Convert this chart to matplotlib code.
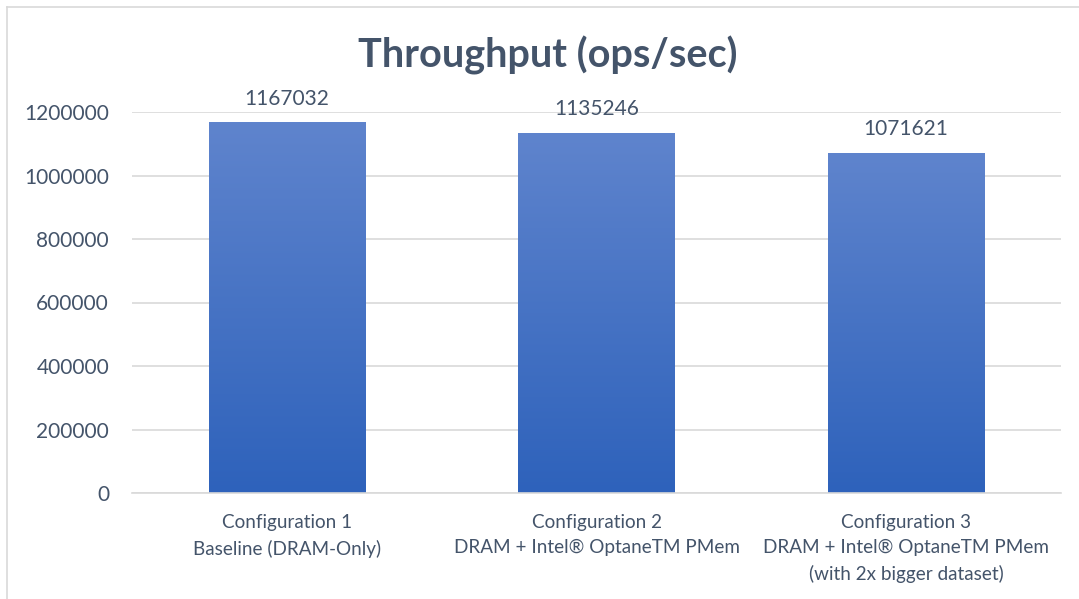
import matplotlib.pyplot as plt
import numpy as np
from matplotlib.lines import Line2D

# data
categories = ["Configuration 1\nBaseline (DRAM-Only)",
              "Configuration 2\nDRAM + Intel® OptaneTM PMem",
              "Configuration 3\nDRAM + Intel® OptaneTM PMem\n(with 2x bigger dataset)"]
throughput = [1167032, 1135246, 1071621]
yticks = [0, 200000, 400000, 600000, 800000, 1000000, 1200000]

txt = '#44546A'
plt.rcParams['font.family'] = ['Lato', 'DejaVu Sans']

fig = plt.figure(figsize=(10.79, 5.99), dpi=100)
ax = fig.add_axes([132/1079, 1 - 493/599, 929/1079, 381/599])

x = np.arange(len(throughput))
bars = ax.bar(x, throughput, width=0.504, color='none', zorder=2)

# vertical gradient for each bar
grad = np.linspace(0, 1, 256).reshape(-1, 1)
top = np.array([0x5F, 0x84, 0xCD]) / 255
bot = np.array([0x2E, 0x62, 0xBB]) / 255
img = bot + (top - bot) * grad[:, :, None]
for b in bars:
    x0, w, h = b.get_x(), b.get_width(), b.get_height()
    im = ax.imshow(img, extent=[x0, x0 + w, 0, h], origin='lower',
                   aspect='auto', zorder=2)
    im.set_clip_path(b)

for xi, v in zip(x, throughput):
    ax.annotate(str(v), (xi, v), xytext=(0, 10), textcoords='offset points',
                ha='center', va='bottom', fontsize=15, color=txt)

ax.set_xlim(-0.5, 2.5)
ax.set_ylim(0, 1200000)
ax.set_yticks(yticks)
ax.set_yticklabels([str(t) for t in yticks])
ax.set_xticks(x)
ax.set_xticklabels(categories, linespacing=1.6)
ax.tick_params(axis='y', length=0, pad=16.5, labelsize=15, labelcolor=txt)
ax.tick_params(axis='x', length=0, pad=15, labelsize=13.6, labelcolor=txt)
ax.grid(axis='y', color='#D9D9D9', linewidth=1.2, zorder=0)
for s in ['top', 'right', 'left']:
    ax.spines[s].set_visible(False)
ax.spines['bottom'].set_color('#D9D9D9')
ax.spines['bottom'].set_linewidth(1.2)

fig.text(548/1079, 1 - 55/599, 'Throughput (ops/sec)', ha='center', va='center',
         fontsize=28.5, fontweight='bold', color=txt)

# chart frame
fig.add_artist(Line2D([7/1079, 1], [1 - 7/599, 1 - 7/599], color='#D9D9D9', lw=1.2))
fig.add_artist(Line2D([7/1079, 7/1079], [0, 1 - 7/599], color='#D9D9D9', lw=1.2))

fig.savefig('out.png', dpi=100)
